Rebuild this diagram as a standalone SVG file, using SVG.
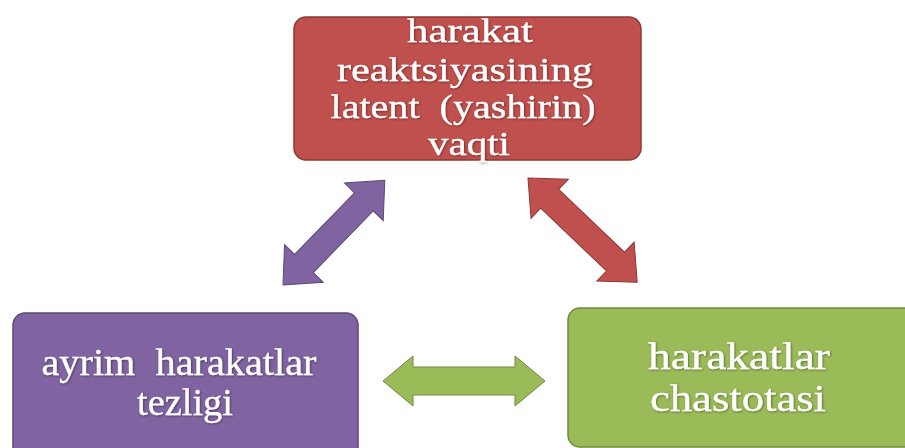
<svg xmlns="http://www.w3.org/2000/svg" width="905" height="448" viewBox="0 0 905 448">
<style>
.t{font-size:34px;fill:#ffffff;text-anchor:middle;stroke:#ffffff;stroke-width:0.3}
.b{font-size:38px}
.red{fill:#C0504D;stroke:#8C3836;stroke-width:1.5}
.pur{fill:#8064A2;stroke:#5C4776;stroke-width:1.5}
.grn{fill:#9BBB59;stroke:#71893F;stroke-width:1.5}
.ar{stroke-width:1;stroke-linejoin:miter}
</style>
<defs>
<filter id="sh" x="-10%" y="-20%" width="120%" height="140%">
<feDropShadow dx="0.8" dy="0.8" stdDeviation="0.8" flood-color="#000000" flood-opacity="0.45"/>
</filter>
</defs>
<rect width="905" height="448" fill="#ffffff"/>
<g id="connectors">
<polygon class="pur ar" transform="translate(283,285) rotate(-45.8)" points="0,0 30,-27 30,-13 116,-13 116,-27 146,0 116,27 116,13 30,13 30,27"/>
<polygon class="red ar" transform="translate(528,178) rotate(43.7)" points="0,0 30,-27 30,-13 121,-13 121,-27 151,0 121,27 121,13 30,13 30,27"/>
<polygon class="grn ar" transform="translate(383,381)" points="0,0 30,-25 30,-14 132,-14 132,-25 162,0 132,25 132,14 30,14 30,25"/>
</g>
<g id="node-top" font-family="Liberation Serif, Times New Roman, serif">
<rect class="red" x="294" y="17" width="347" height="143" rx="12"/>
<g filter="url(#sh)">
<text class="t" x="470" y="42" textLength="126" lengthAdjust="spacingAndGlyphs">harakat</text>
<text class="t" x="465" y="81" textLength="256" lengthAdjust="spacingAndGlyphs">reaktsiyasining</text>
<text class="t" x="463" y="118" textLength="265" lengthAdjust="spacingAndGlyphs" xml:space="preserve">latent  (yashirin)</text>
<text class="t" x="469" y="155" textLength="82" lengthAdjust="spacingAndGlyphs">vaqti</text>
</g>
</g>
<g id="node-left" font-family="Liberation Serif, Times New Roman, serif">
<rect class="pur" x="13" y="313" width="345" height="150" rx="12"/>
<g filter="url(#sh)">
<text class="t b" x="179" y="375" textLength="275" lengthAdjust="spacingAndGlyphs" xml:space="preserve">ayrim  harakatlar</text>
<text class="t b" x="185" y="415" textLength="96" lengthAdjust="spacingAndGlyphs">tezligi</text>
</g>
</g>
<g id="node-right" font-family="Liberation Serif, Times New Roman, serif">
<rect class="grn" x="568" y="308" width="350" height="139" rx="12"/>
<g filter="url(#sh)">
<text class="t b" x="739" y="369" textLength="182" lengthAdjust="spacingAndGlyphs">harakatlar</text>
<text class="t b" x="738" y="411" textLength="176" lengthAdjust="spacingAndGlyphs">chastotasi</text>
</g>
</g>
</svg>
